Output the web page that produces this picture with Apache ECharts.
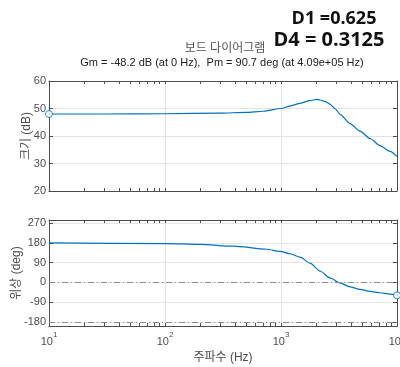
<!DOCTYPE html>
<html lang="ko">
  <head>
    <meta charset="UTF-8" />
    <title>Bode</title>
    <script src="https://cdn.jsdelivr.net/npm/echarts@6/dist/echarts.min.js"></script>
    <style>
      html, body { margin: 0; padding: 0; background: #fff; }
    </style>
  </head>
  <body>
    <div id="main" style="width: 400px;height:367px;"></div>
    <script>
        // 값은 그림에서 읽은 것
        var magFreq = [10, 30, 100, 300, 500, 700, 1000, 1200, 1460, 1780, 2030, 2170, 2400, 2640, 2930, 3230, 3940, 4800, 5850, 7130, 8700, 10000];
        var magDb   = [48.0, 48.0, 48.1, 48.3, 48.6, 49.0, 50.0, 50.9, 51.9, 52.9, 53.3, 53.1, 52.5, 51.6, 49.9, 47.9, 44.5, 41.8, 39.1, 36.5, 34.4, 32.6];
        var phFreq  = [10, 100, 200, 388, 753, 980, 1200, 1460, 1780, 2170, 2640, 3230, 3940, 4800, 5850, 7130, 8700, 10000];
        var phDeg   = [180, 177, 173, 165, 151, 141, 130.5, 115, 88, 52, 20.7, -2, -20, -31.5, -40.5, -46.8, -52.7, -58.5];
        var refLines = [0, -180];
        var magTicks = [20, 30, 40, 50, 60];
        var phTicks = [-180, -90, 0, 90, 180, 270];
        var majorX = [10, 100, 1000, 10000];

        // 로그 축 보조 눈금 (2..9)
        var allX = [];
        majorX.forEach(function (d, i) {
            for (var k = 1; k < 10; k++) {
                if (i < majorX.length - 1 || k === 1) allX.push(d * k);
            }
        });

        var font = 'Liberation Sans, Arial, Noto Sans CJK KR, sans-serif';
        var axisCol = '#4d4d4d';
        var gridCol = '#e3e3e3';
        var blue = '#0072BD';

        function xAx(grid, pos, opts) {
            var a = {
                type: 'log', logBase: 10, min: 10, max: 10000, gridIndex: grid, position: pos,
                axisLine: {show: true, onZero: false, lineStyle: {color: axisCol, width: 1}},
                axisTick: {show: true, inside: true, length: 3, customValues: allX, lineStyle: {color: axisCol}},
                axisLabel: {show: false},
                splitLine: {show: false},
                minorTick: {show: false}
            };
            return Object.assign(a, opts || {});
        }
        function yAx(grid, pos, mn, mx, ticks, opts) {
            var a = {
                type: 'value', min: mn, max: mx, gridIndex: grid, position: pos,
                axisLine: {show: true, onZero: false, lineStyle: {color: axisCol, width: 1}},
                axisTick: {show: true, inside: true, length: 4, customValues: ticks, lineStyle: {color: axisCol}},
                axisLabel: {show: false},
                splitLine: {show: false}
            };
            return Object.assign(a, opts || {});
        }

        var myChart = echarts.init(document.getElementById('main'));
        var option = {
            backgroundColor: '#ffffff',
            animation: false,
            textStyle: {fontFamily: font},
            graphic: [
                {type: 'text', x: 334, y: 19, style: {text: 'D1 =0.625', font: 'bold 18px Open Sans, sans-serif', fill: '#111', align: 'center', verticalAlign: 'middle'}},
                {type: 'text', x: 329, y: 40, style: {text: 'D4 = 0.3125', font: 'bold 20px Open Sans, sans-serif', fill: '#111', align: 'center', verticalAlign: 'middle'}},
                {type: 'text', x: 225, y: 49, style: {text: '보드 다이어그램', font: '12px ' + font, fill: '#555', align: 'center', verticalAlign: 'middle'}},
                {type: 'text', x: 222, y: 63, style: {text: 'Gm = -48.2 dB (at 0 Hz),  Pm = 90.7 deg (at 4.09e+05 Hz)', font: '11px ' + font, fill: '#222', align: 'center', verticalAlign: 'middle'}}
            ],
            grid: [
                {left: 49, top: 81, width: 348, height: 110, outerBoundsMode: 'none'},
                {left: 49, top: 220, width: 348, height: 106, outerBoundsMode: 'none'}
            ],
            xAxis: [
                xAx(0, 'bottom'),
                xAx(0, 'top'),
                xAx(0, 'bottom', {axisLine: {show: false, onZero: false}, axisTick: {show: false}, splitLine: {show: true, lineStyle: {color: gridCol}}}),
                xAx(1, 'bottom', {
                    name: '주파수 (Hz)', nameLocation: 'middle', nameGap: 26, nameMoveOverlap: false,
                    nameTextStyle: {fontSize: 12, color: axisCol, fontFamily: font},
                    axisLabel: {
                        show: true, customValues: majorX, margin: 5, color: axisCol,
                        formatter: function (v) { return '{b|10}{s|' + Math.round(Math.log10(v)) + '}'; },
                        rich: {
                            b: {fontSize: 11, lineHeight: 16, verticalAlign: 'bottom', color: axisCol, fontFamily: font},
                            s: {fontSize: 8, lineHeight: 10, verticalAlign: 'top', color: axisCol, fontFamily: font}
                        }
                    }
                }),
                xAx(1, 'top'),
                xAx(1, 'bottom', {axisLine: {show: false, onZero: false}, axisTick: {show: false}, splitLine: {show: true, lineStyle: {color: gridCol}}})
            ],
            yAxis: [
                yAx(0, 'left', 20, 60, magTicks, {
                    name: '크기 (dB)', nameLocation: 'middle', nameGap: 22, nameMoveOverlap: false,
                    nameTextStyle: {fontSize: 12, color: axisCol, fontFamily: font, verticalAlign: 'middle'},
                    axisLabel: {show: true, customValues: magTicks, margin: 3, fontSize: 11, color: axisCol},
                    splitLine: {show: true, lineStyle: {color: gridCol}}
                }),
                yAx(0, 'right', 20, 60, magTicks),
                yAx(1, 'left', -198, 284, phTicks, {
                    name: '위상 (deg)', nameLocation: 'middle', nameGap: 32, nameMoveOverlap: false,
                    nameTextStyle: {fontSize: 12, color: axisCol, fontFamily: font, verticalAlign: 'middle'},
                    axisLabel: {show: true, customValues: phTicks, margin: 3, fontSize: 11, color: axisCol},
                    splitLine: {show: true, lineStyle: {color: gridCol}}
                }),
                yAx(1, 'right', -198, 284, phTicks)
            ],
            series: [
                {
                    type: 'line', xAxisIndex: 2, yAxisIndex: 0, smooth: 0.25, smoothMonotone: 'x', showSymbol: false,
                    lineStyle: {color: blue, width: 1.2}, itemStyle: {color: blue},
                    data: magFreq.map(function (f, i) { return [f, magDb[i]]; })
                },
                {
                    type: 'line', xAxisIndex: 5, yAxisIndex: 2, smooth: 0.25, smoothMonotone: 'x', showSymbol: false,
                    lineStyle: {color: blue, width: 1.2}, itemStyle: {color: blue},
                    data: phFreq.map(function (f, i) { return [f, phDeg[i]]; }),
                    markLine: {
                        silent: true, symbol: 'none', label: {show: false},
                        lineStyle: {color: '#8c8c8c', width: 1, type: [6, 3, 1, 3]},
                        data: refLines.map(function (v) { return {yAxis: v}; })
                    }
                },
                {
                    type: 'scatter', xAxisIndex: 2, yAxisIndex: 0, clip: false, symbolSize: 7, z: 5,
                    itemStyle: {color: '#fff', borderColor: blue, borderWidth: 1},
                    data: [[magFreq[0], magDb[0]]]
                },
                {
                    type: 'scatter', xAxisIndex: 5, yAxisIndex: 2, clip: false, symbolSize: 7, z: 5,
                    itemStyle: {color: '#fff', borderColor: blue, borderWidth: 1},
                    data: [[phFreq[phFreq.length - 1], phDeg[phDeg.length - 1]]]
                }
            ]
        };
        myChart.setOption(option);
    </script>
  </body>
</html>
